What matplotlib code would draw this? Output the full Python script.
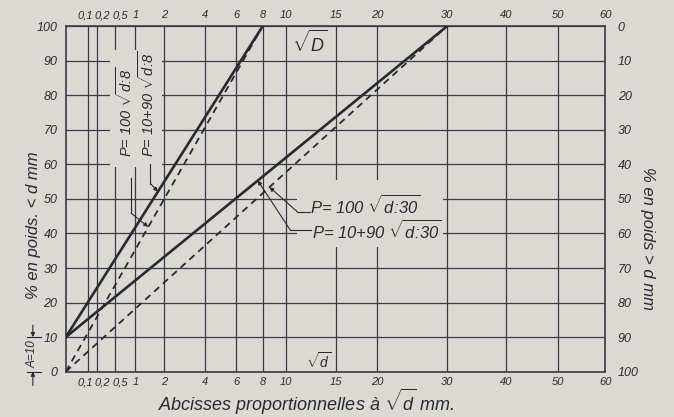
import matplotlib
matplotlib.use("Agg")
import matplotlib.pyplot as plt
import numpy as np
from matplotlib.patches import Rectangle
from matplotlib.transforms import ScaledTranslation

# grain sizes d (mm) at the graduations of the sqrt(d) axis
d_ticks = [0.1, 0.2, 0.5, 1, 2, 4, 6, 8, 10, 15, 20, 30, 40, 50, 60]
d_tick_labels = ["0,1", "0,2", "0,5", "1", "2", "4", "6", "8", "10",
                 "15", "20", "30", "40", "50", "60"]
p_ticks = [0, 10, 20, 30, 40, 50, 60, 70, 80, 90, 100]
p_labels = ["0", "10", "20", "30", "40", "50", "60", "70", "80", "90", "100"]

# straight lines in sqrt(d) space: end points (d, % passing)
d8 = [0, 8]
p8_solid = [10, 100]   # P = 10 + 90 sqrt(d:8)
p8_dash = [0, 100]     # P = 100 sqrt(d:8)
d30 = [0, 30]
p30_solid = [10, 100]  # P = 10 + 90 sqrt(d:30)
p30_dash = [0, 100]    # P = 100 sqrt(d:30)

BG = "#dcd9d3"
INK = "#2a2a33"
GRID = "#3a3a48"
FONT = "Liberation Sans"

plt.rcParams["font.family"] = [FONT, "DejaVu Sans"]
plt.rcParams["font.style"] = "italic"
plt.rcParams["mathtext.fontset"] = "custom"
plt.rcParams["mathtext.rm"] = FONT + ":italic"
plt.rcParams["mathtext.it"] = FONT + ":italic"
plt.rcParams["mathtext.sf"] = FONT + ":italic"
plt.rcParams["text.color"] = INK


def fwd(x):
    return np.sqrt(np.clip(x, 0, None))


def inv(x):
    return np.square(x)


fig = plt.figure(figsize=(6.74, 4.17), dpi=100, facecolor=BG)
ax = fig.add_axes([0.0976, 0.1086, 0.8004, 0.829])
ax.set_facecolor(BG)
ax.set_xscale("function", functions=(fwd, inv))
ax.set_xlim(0, 60)
ax.set_ylim(0, 100)
ax.set_axisbelow(True)

ax.set_xticks(d_ticks, labels=d_tick_labels)
ax.xaxis.set_minor_locator(matplotlib.ticker.NullLocator())
ax.tick_params(axis="x", length=0, top=True, labeltop=True, pad=4,
               labelsize=8, colors=INK)
ax.set_yticks(p_ticks, labels=p_labels)
ax.tick_params(axis="y", length=0, pad=6, labelsize=9, colors=INK)
ax.grid(True, color=GRID, lw=0.9)
for sp in ax.spines.values():
    sp.set_color(GRID)
    sp.set_linewidth(1.2)

# the crowded small graduations are written slightly to the side
nudge_px = [-2, 5, 5, 0, 0, 0, 0, 0, 0, 0, 0, 0, 0, 0, 0]
for tk, dx in zip(ax.xaxis.get_major_ticks(), nudge_px):
    off = ScaledTranslation(dx / 100, 0, fig.dpi_scale_trans)
    tk.label1.set_transform(tk.label1.get_transform() + off)
    tk.label2.set_transform(tk.label2.get_transform() + off)

ax2 = ax.twinx()
ax2.set_ylim(100, 0)
ax2.set_yticks(p_ticks, labels=p_labels)
ax2.tick_params(axis="y", length=0, pad=9, labelsize=9, colors=INK)
for sp in ax2.spines.values():
    sp.set_visible(False)

# gaps in the grid around the inscriptions
for x0, y0, w, h in [(0.082, 0.592, 0.096, 0.339), (0.428, 0.361, 0.271, 0.194)]:
    ax.add_patch(Rectangle((x0, y0), w, h, transform=ax.transAxes,
                           facecolor=BG, edgecolor="none", zorder=1))

ax.plot(d8, p8_solid, color=INK, lw=1.9, zorder=3)
ax.plot(d8, p8_dash, color=INK, lw=1.3, dashes=(3.8, 2.8), zorder=3)
ax.plot(d30, p30_solid, color=INK, lw=1.9, zorder=3)
ax.plot(d30, p30_dash, color=INK, lw=1.3, dashes=(3.8, 2.8), zorder=3)

# formula labels
ax.text(0.110, 0.621, r"P= 100 $\sqrt{d\!:\!8}$", rotation=90, transform=ax.transAxes,
        ha="center", va="bottom", fontsize=10.5, zorder=4)
ax.text(0.150, 0.621, r"P= 10+90 $\sqrt{d\!:\!8}$", rotation=90, transform=ax.transAxes,
        ha="center", va="bottom", fontsize=10.5, zorder=4)
ax.text(0.453, 0.482, r"P= 100 $\sqrt{d\!:\!30}$", transform=ax.transAxes,
        ha="left", va="center", fontsize=12, zorder=4)
ax.text(0.456, 0.410, r"P= 10+90 $\sqrt{d\!:\!30}$", transform=ax.transAxes,
        ha="left", va="center", fontsize=12, zorder=4)
ax.text(0.452, 0.950, r"$\sqrt{D}$", transform=ax.transAxes,
        ha="center", va="center", fontsize=13, zorder=4)
ax.text(0.468, 0.030, r"$\sqrt{d}$", transform=ax.transAxes,
        ha="center", va="center", fontsize=10, zorder=4)

# leader lines
arrow = dict(arrowstyle="-|>", color=INK, lw=0.8, mutation_scale=6,
             shrinkA=0, shrinkB=0)
ax.plot([0.121, 0.121], [0.560, 0.459], color=INK, lw=0.8, transform=ax.transAxes,
        zorder=4)
ax.annotate("", xy=(1.40, 41.9), xycoords="data", xytext=(0.121, 0.459),
            textcoords="axes fraction", arrowprops=arrow, zorder=4)
ax.plot([0.157, 0.157], [0.601, 0.544], color=INK, lw=0.8, transform=ax.transAxes,
        zorder=4)
ax.annotate("", xy=(1.75, 52.1), xycoords="data", xytext=(0.157, 0.544),
            textcoords="axes fraction", arrowprops=arrow, zorder=4)
ax.plot([0.429, 0.452], [0.463, 0.463], color=INK, lw=0.8, transform=ax.transAxes,
        zorder=4)
ax.annotate("", xy=(8.55, 53.4), xycoords="data", xytext=(0.429, 0.463),
            textcoords="axes fraction", arrowprops=arrow, zorder=4)
ax.plot([0.416, 0.455], [0.410, 0.410], color=INK, lw=0.8, transform=ax.transAxes,
        zorder=4)
ax.annotate("", xy=(7.6, 55.3), xycoords="data", xytext=(0.416, 0.410),
            textcoords="axes fraction", arrowprops=arrow, zorder=4)

# A = 10 dimension at the left
for lvl in (0.0, 0.1):
    ax.plot([-0.072, -0.046], [lvl, lvl], color=INK, lw=0.8,
            transform=ax.transAxes, clip_on=False)
ax.annotate("", xy=(-0.061, 0.1), xycoords="axes fraction", xytext=(-0.061, 0.135),
            textcoords="axes fraction", arrowprops=arrow, annotation_clip=False)
ax.annotate("", xy=(-0.061, 0.0), xycoords="axes fraction", xytext=(-0.061, -0.04),
            textcoords="axes fraction", arrowprops=arrow, annotation_clip=False)
ax.text(-0.061, 0.05, "A=10", rotation=90, transform=ax.transAxes,
        ha="center", va="center", fontsize=8.5)

# axis titles
fig.text(0.050, 0.46, "% en poids. < d mm", rotation=90, ha="center", va="center",
         fontsize=12)
fig.text(0.960, 0.428, "% en poids > d mm", rotation=270, ha="center", va="center",
         fontsize=12)
fig.text(0.454, 0.036, r"Abcisses proportionnelles à $\sqrt{d}$ mm.", ha="center",
         va="center", fontsize=13)

fig.savefig("out.png", dpi=100, facecolor=BG)
